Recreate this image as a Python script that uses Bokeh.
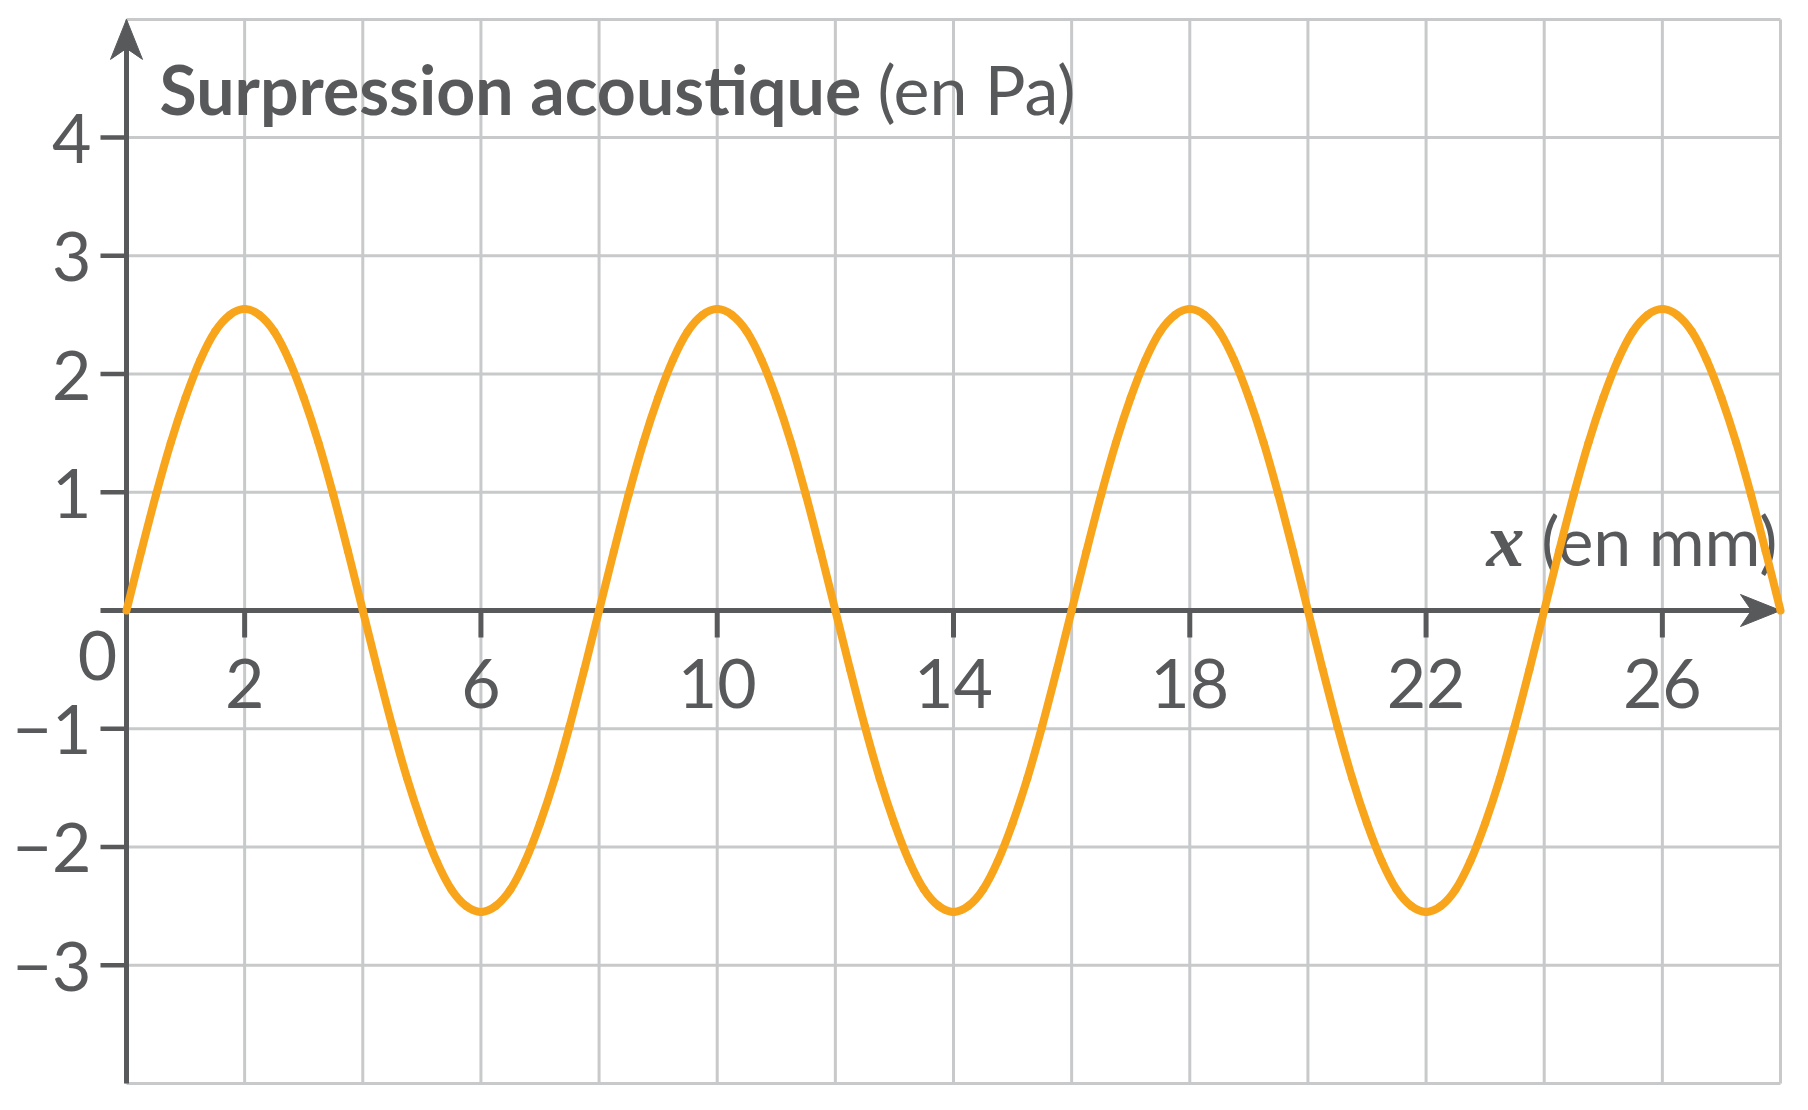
from bokeh.plotting import figure
from bokeh.models import Range1d
from bokeh.core.properties import value
from bokeh.embed import file_html
from bokeh.resources import INLINE

# ---------------- data ----------------
X_MM = [
    0.00, 0.25, 0.50, 0.75, 1.00, 1.25, 1.50, 1.75,
    2.00, 2.25, 2.50, 2.75, 3.00, 3.25, 3.50, 3.75,
    4.00, 4.25, 4.50, 4.75, 5.00, 5.25, 5.50, 5.75,
    6.00, 6.25, 6.50, 6.75, 7.00, 7.25, 7.50, 7.75,
    8.00, 8.25, 8.50, 8.75, 9.00, 9.25, 9.50, 9.75,
    10.00, 10.25, 10.50, 10.75, 11.00, 11.25, 11.50, 11.75,
    12.00, 12.25, 12.50, 12.75, 13.00, 13.25, 13.50, 13.75,
    14.00, 14.25, 14.50, 14.75, 15.00, 15.25, 15.50, 15.75,
    16.00, 16.25, 16.50, 16.75, 17.00, 17.25, 17.50, 17.75,
    18.00, 18.25, 18.50, 18.75, 19.00, 19.25, 19.50, 19.75,
    20.00, 20.25, 20.50, 20.75, 21.00, 21.25, 21.50, 21.75,
    22.00, 22.25, 22.50, 22.75, 23.00, 23.25, 23.50, 23.75,
    24.00, 24.25, 24.50, 24.75, 25.00, 25.25, 25.50, 25.75,
    26.00, 26.25, 26.50, 26.75, 27.00, 27.25, 27.50, 27.75,
    28.00,
]
P_PA = [
    0.00, 0.50, 0.98, 1.42, 1.80, 2.12, 2.36, 2.50,
    2.55, 2.50, 2.36, 2.12, 1.80, 1.42, 0.98, 0.50,
    0.00, -0.50, -0.98, -1.42, -1.80, -2.12, -2.36, -2.50,
    -2.55, -2.50, -2.36, -2.12, -1.80, -1.42, -0.98, -0.50,
    0.00, 0.50, 0.98, 1.42, 1.80, 2.12, 2.36, 2.50,
    2.55, 2.50, 2.36, 2.12, 1.80, 1.42, 0.98, 0.50,
    0.00, -0.50, -0.98, -1.42, -1.80, -2.12, -2.36, -2.50,
    -2.55, -2.50, -2.36, -2.12, -1.80, -1.42, -0.98, -0.50,
    0.00, 0.50, 0.98, 1.42, 1.80, 2.12, 2.36, 2.50,
    2.55, 2.50, 2.36, 2.12, 1.80, 1.42, 0.98, 0.50,
    0.00, -0.50, -0.98, -1.42, -1.80, -2.12, -2.36, -2.50,
    -2.55, -2.50, -2.36, -2.12, -1.80, -1.42, -0.98, -0.50,
    0.00, 0.50, 0.98, 1.42, 1.80, 2.12, 2.36, 2.50,
    2.55, 2.50, 2.36, 2.12, 1.80, 1.42, 0.98, 0.50,
    0.00,
]
X_GRID = [0, 2, 4, 6, 8, 10, 12, 14, 16, 18, 20, 22, 24, 26, 28]
Y_GRID = [-4, -3, -2, -1, 0, 1, 2, 3, 4, 5]
X_TICKS = [2, 6, 10, 14, 18, 22, 26]
X_TICK_LABELS = ["2", "6", "10", "14", "18", "22", "26"]
Y_TICKS = [4, 3, 2, 1, -1, -2, -3]
Y_TICK_LABELS = ["4", "3", "2", "1", "\u22121", "\u22122", "\u22123"]
ORIGIN_LABEL = "0"
X_MIN, X_MAX = 0, 28
Y_MIN, Y_MAX = -4, 5
TITLE_BOLD = "Surpression acoustique"
TITLE_UNIT = "(en Pa)"
X_LABEL_VAR = "x"
X_LABEL_UNIT = "(en mm)"

# ---------------- layout / style ----------------
W, H = 1800, 1100
ORIGIN_CX, ORIGIN_CY = 126, 610          # canvas px of data origin
PX_X = (1780 - 126) / (X_MAX - X_MIN)    # px per mm
PX_Y = (1083 - 19) / (Y_MAX - Y_MIN)     # px per Pa
AX = "#58595b"
GRID = "#c8c9ca"
ORANGE = "#f8a51b"
FONT = "Lato"
FS = "68px"
TICK_PX = 26
BASE_FIX = -24   # measured shift of the alphabetic baseline in the svg output
HEAD_LEN, HEAD_HALF_W, HEAD_NOTCH = 40, 16, 11   # arrowhead size in px

x_range = Range1d(X_MIN - ORIGIN_CX / PX_X, X_MIN + (W - ORIGIN_CX) / PX_X)
y_range = Range1d(-(H - ORIGIN_CY) / PX_Y, ORIGIN_CY / PX_Y)

p = figure(width=W, height=H, x_range=x_range, y_range=y_range,
           output_backend="svg", toolbar_location=None,
           x_axis_type=None, y_axis_type=None, min_border=0, title=None)
p.outline_line_color = None
p.background_fill_color = "white"
p.border_fill_color = "white"

# grid
p.segment(x0=X_GRID, y0=Y_MIN, x1=X_GRID, y1=Y_MAX, line_color=GRID, line_width=3)
p.segment(x0=X_MIN, y0=Y_GRID, x1=X_MAX, y1=Y_GRID, line_color=GRID, line_width=3)

# axes lines
p.segment(x0=[X_MIN, X_MIN - TICK_PX / PX_X],
          y0=[Y_MIN, 0],
          x1=[X_MIN, X_MAX - (HEAD_LEN - HEAD_NOTCH) / PX_X],
          y1=[Y_MAX - (HEAD_LEN - HEAD_NOTCH) / PX_Y, 0],
          line_color=AX, line_width=5)

# arrowheads (notched darts) at the ends of the axes
hx = [[X_MIN, X_MIN + HEAD_HALF_W / PX_X, X_MIN, X_MIN - HEAD_HALF_W / PX_X],
      [X_MAX, X_MAX - HEAD_LEN / PX_X, X_MAX - (HEAD_LEN - HEAD_NOTCH) / PX_X,
       X_MAX - HEAD_LEN / PX_X]]
hy = [[Y_MAX, Y_MAX - HEAD_LEN / PX_Y, Y_MAX - (HEAD_LEN - HEAD_NOTCH) / PX_Y,
       Y_MAX - HEAD_LEN / PX_Y],
      [0, HEAD_HALF_W / PX_Y, 0, -HEAD_HALF_W / PX_Y]]
p.patches(hx, hy, fill_color=AX, line_color=AX, line_width=1)

# ticks
p.segment(x0=X_MIN - TICK_PX / PX_X, y0=Y_TICKS, x1=X_MIN, y1=Y_TICKS,
          line_color=AX, line_width=4.5)
p.segment(x0=X_TICKS, y0=0, x1=X_TICKS, y1=-27 / PX_Y,
          line_color=AX, line_width=5)

# tick labels
p.text(x=X_MIN, y=Y_TICKS, text=Y_TICK_LABELS, text_font=value(FONT), text_font_size=FS,
       text_color=AX, text_align="right", text_baseline="alphabetic",
       x_offset=-35, y_offset=25 + BASE_FIX)
p.text(x=X_TICKS, y=0, text=X_TICK_LABELS, text_font=value(FONT), text_font_size=FS,
       text_color=AX, text_align="center", text_baseline="alphabetic",
       x_offset=0, y_offset=97 + BASE_FIX)
p.text(x=[X_MIN], y=[0], text=[ORIGIN_LABEL], text_font=value(FONT), text_font_size=FS,
       text_color=AX, text_align="center", text_baseline="alphabetic",
       x_offset=-29, y_offset=69 + BASE_FIX)

# titles
p.text(x=[X_MIN], y=[Y_MAX], text=[TITLE_BOLD], text_font=value(FONT), text_font_size=FS,
       text_font_style="bold", text_color=AX, text_align="left",
       text_baseline="alphabetic", x_offset=33, y_offset=93 + BASE_FIX)
p.text(x=[X_MIN], y=[Y_MAX], text=[TITLE_UNIT], text_font=value(FONT), text_font_size=FS,
       text_color=AX, text_align="left", text_baseline="alphabetic",
       x_offset=751, y_offset=93 + BASE_FIX)
p.text(x=[X_MAX], y=[0], text=[X_LABEL_UNIT], text_font=value(FONT), text_font_size=FS,
       text_color=AX, text_align="right", text_baseline="alphabetic",
       x_offset=-3, y_offset=-47 + BASE_FIX)
p.text(x=[X_MAX], y=[0], text=[X_LABEL_VAR], text_font=value("Liberation Serif"),
       text_font_size="76px", text_font_style="bold italic", text_color=AX,
       text_align="right", text_baseline="alphabetic", x_offset=-256,
       y_offset=-47 + BASE_FIX)

# curve on top: smooth Catmull-Rom Bezier pieces through the read points
n = len(X_MM)
bx0, by0, bx1, by1, cx0, cy0, cx1, cy1 = [], [], [], [], [], [], [], []
for i in range(n - 1):
    xa, ya = X_MM[i], P_PA[i]
    xb, yb = X_MM[i + 1], P_PA[i + 1]
    if i > 0:
        xp, yp = X_MM[i - 1], P_PA[i - 1]
    else:
        xp, yp = 2 * xa - xb, 2 * ya - yb
    if i + 2 < n:
        xn, yn = X_MM[i + 2], P_PA[i + 2]
    else:
        xn, yn = 2 * xb - xa, 2 * yb - ya
    bx0.append(xa); by0.append(ya); bx1.append(xb); by1.append(yb)
    cx0.append(xa + (xb - xp) / 6); cy0.append(ya + (yb - yp) / 6)
    cx1.append(xb - (xn - xa) / 6); cy1.append(yb - (yn - ya) / 6)
p.bezier(x0=bx0, y0=by0, x1=bx1, y1=by1, cx0=cx0, cy0=cy0, cx1=cx1, cy1=cy1,
         line_width=8, line_color=ORANGE, line_cap="round", level="overlay")

open("out.html", "w").write(file_html(p, INLINE))
